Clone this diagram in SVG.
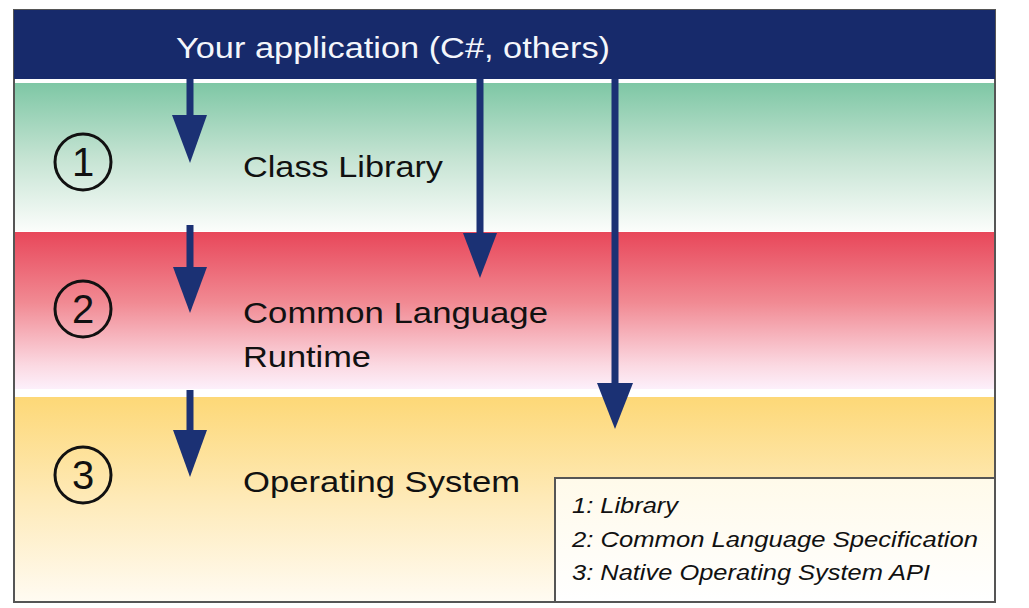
<svg xmlns="http://www.w3.org/2000/svg" width="1029" height="608" viewBox="0 0 1029 608">
<defs>
<linearGradient id="gGreen" x1="0" y1="0" x2="0" y2="1">
<stop offset="0" stop-color="#7ec7a5"/>
<stop offset="0.5" stop-color="#c4e3d2"/>
<stop offset="1" stop-color="#fbfdfb"/>
</linearGradient>
<linearGradient id="gRed" x1="0" y1="0" x2="0" y2="1">
<stop offset="0" stop-color="#e8475a"/>
<stop offset="0.45" stop-color="#f18a93"/>
<stop offset="0.85" stop-color="#fbd9e2"/>
<stop offset="1" stop-color="#fdf0fb"/>
</linearGradient>
<linearGradient id="gYellow" x1="0" y1="0" x2="0" y2="1">
<stop offset="0" stop-color="#fdd877"/>
<stop offset="0.5" stop-color="#feeab8"/>
<stop offset="1" stop-color="#fffbf2"/>
</linearGradient>
<linearGradient id="gLegend" x1="0" y1="0" x2="0" y2="1">
<stop offset="0" stop-color="#fffaea"/>
<stop offset="1" stop-color="#ffffff"/>
</linearGradient>
</defs>
<style>
.lbl{font-family:"Liberation Sans",Arial,sans-serif;font-size:29px;fill:#111;}
.num{font-family:"Liberation Sans",Arial,sans-serif;font-size:40px;fill:#111;text-anchor:middle;}
.ring{fill:none;stroke:#111;stroke-width:3;}
.leg{font-family:"Liberation Sans",Arial,sans-serif;font-size:22px;font-style:italic;fill:#111;}
.shaft{stroke:#1b3174;stroke-width:7;fill:none;}
.head{fill:#1b3174;}
</style>
<rect x="0" y="0" width="1029" height="608" fill="#ffffff"/>
<g id="frame">
<rect x="14" y="10" width="981" height="592" fill="#ffffff" stroke="#555" stroke-width="2"/>
</g>
<g id="layer-app">
<rect x="14" y="10" width="981" height="69" fill="#172a6b"/>
<text x="176" y="58" font-family="Liberation Sans, Arial, sans-serif" font-size="30" fill="#f4f6fb" textLength="434" lengthAdjust="spacingAndGlyphs">Your application (C#, others)</text>
</g>
<g id="layer-1">
<rect x="15" y="83" width="979" height="148" fill="url(#gGreen)"/>
<circle class="ring" cx="83" cy="162" r="28"/>
<text class="num" x="83" y="176">1</text>
<text class="lbl" x="243" y="177" textLength="200" lengthAdjust="spacingAndGlyphs">Class Library</text>
</g>
<g id="layer-2">
<rect x="15" y="232" width="979" height="157" fill="url(#gRed)"/>
<circle class="ring" cx="83" cy="309" r="28"/>
<text class="num" x="83" y="323">2</text>
<text class="lbl" x="243" y="323" textLength="305" lengthAdjust="spacingAndGlyphs">Common Language</text>
<text class="lbl" x="243" y="367" textLength="128" lengthAdjust="spacingAndGlyphs">Runtime</text>
</g>
<g id="layer-3">
<rect x="15" y="397" width="979" height="204" fill="url(#gYellow)"/>
<circle class="ring" cx="83" cy="475" r="28"/>
<text class="num" x="83" y="489">3</text>
<text class="lbl" x="243" y="492" textLength="277" lengthAdjust="spacingAndGlyphs">Operating System</text>
</g>
<g id="legend">
<rect x="555" y="478" width="440" height="124" fill="url(#gLegend)" stroke="#555" stroke-width="2"/>
<text class="leg" x="572" y="513" textLength="106" lengthAdjust="spacingAndGlyphs">1: Library</text>
<text class="leg" x="572" y="547" textLength="406" lengthAdjust="spacingAndGlyphs">2: Common Language Specification</text>
<text class="leg" x="572" y="580" textLength="358" lengthAdjust="spacingAndGlyphs">3: Native Operating System API</text>
</g>
<g id="connectors">
<line class="shaft" x1="190" y1="79" x2="190" y2="118"/>
<path class="head" d="M172,115 L207,115 L190,163 Z"/>
<line class="shaft" x1="190" y1="225" x2="190" y2="270"/>
<path class="head" d="M173,267 L207,267 L190,313 Z"/>
<line class="shaft" x1="190" y1="390" x2="190" y2="433"/>
<path class="head" d="M173,430 L207,430 L190,477 Z"/>
<line class="shaft" x1="480" y1="79" x2="480" y2="236"/>
<path class="head" d="M463,233 L497,233 L480,278 Z"/>
<line class="shaft" x1="615" y1="79" x2="615" y2="386"/>
<path class="head" d="M597,383 L633,383 L615,429 Z"/>
</g>
</svg>
